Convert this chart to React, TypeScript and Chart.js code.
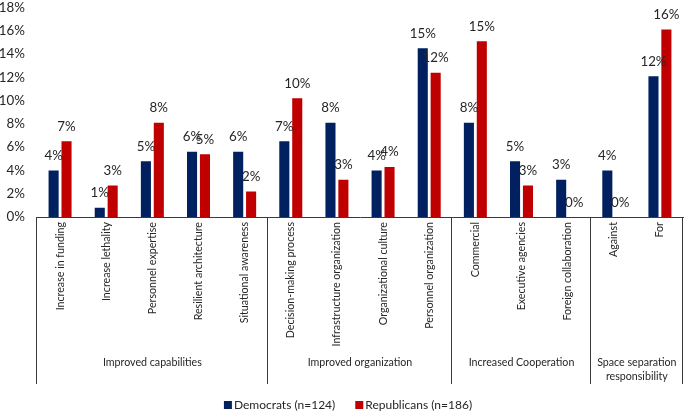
import React, { useEffect, useRef } from "react";
import { Chart, registerables } from "chart.js";
Chart.register(...registerables);

const categories = [
  "Increase in funding",
  "Increase lethality",
  "Personnel expertise",
  "Resilient architecture",
  "Situational awareness",
  "Decision-making process",
  "Infrastructure organization",
  "Organizational culture",
  "Personnel organization",
  "Commercial",
  "Executive agencies",
  "Foreign collaboration",
  "Against",
  "For",
];
const democrats = [4.0, 0.8, 4.8, 5.6, 5.6, 6.5, 8.1, 4.0, 14.5, 8.1, 4.8, 3.2, 4.0, 12.1];
const republicans = [6.5, 2.7, 8.1, 5.4, 2.2, 10.2, 3.2, 4.3, 12.4, 15.1, 2.7, 0, 0, 16.1];
const groupNames = [
  ["Improved capabilities"],
  ["Improved organization"],
  ["Increased Cooperation"],
  ["Space separation", "responsibility"],
];
const groupSizes = [5, 4, 3, 2];
const seriesNames = ["Democrats (n=124)", "Republicans (n=186)"];
const seriesColors = ["#002060", "#C00000"];

const FONT = "Lato, Carlito, Calibri, sans-serif";
const TEXT = "#262626";

const overlayPlugin = {
  id: "overlay",
  afterDraw(chart: any) {
    const { ctx, chartArea, scales } = chart;
    const x = scales.x;
    ctx.save();
    // value labels
    ctx.font = `13.33px ${FONT}`;
    ctx.fillStyle = TEXT;
    ctx.textAlign = "center";
    ctx.textBaseline = "alphabetic";
    chart.data.datasets.forEach((ds: any, di: number) => {
      const meta = chart.getDatasetMeta(di);
      meta.data.forEach((el: any, i: number) => {
        const v = ds.data[i];
        ctx.fillText(Math.round(v) + "%", el.x, el.y - 10.5);
      });
    });
    // group separators
    const n = categories.length;
    const w = (x.right - x.left) / n;
    const top = chartArea.bottom;
    const bottom = chartArea.bottom + 167;
    ctx.strokeStyle = "#3a3a3a";
    ctx.lineWidth = 1;
    let idx = 0;
    const bounds = [0];
    groupSizes.forEach((s) => {
      idx += s;
      bounds.push(idx);
    });
    bounds.forEach((b) => {
      const px = Math.round(x.left + b * w) - 0.5;
      ctx.beginPath();
      ctx.moveTo(px, top);
      ctx.lineTo(px, bottom);
      ctx.stroke();
    });
    // group labels
    ctx.font = `10.67px ${FONT}`;
    ctx.fillStyle = TEXT;
    ctx.textBaseline = "middle";
    for (let g = 0; g < groupSizes.length; g++) {
      const cx = x.left + ((bounds[g] + bounds[g + 1]) / 2) * w;
      groupNames[g].forEach((line, li) => {
        ctx.fillText(line, cx, chartArea.bottom + 146 + li * 14);
      });
    }
    // legend
    ctx.font = `12px ${FONT}`;
    const box = 8;
    const gap = 2;
    const between = 20;
    const widths = seriesNames.map((s) => ctx.measureText(s).width);
    const total = widths.reduce((a, b) => a + b, 0) + seriesNames.length * (box + gap) + between * (seriesNames.length - 1);
    let lx = 348 - total / 2;
    const ly = 405;
    ctx.textAlign = "left";
    ctx.textBaseline = "middle";
    seriesNames.forEach((s, i) => {
      ctx.fillStyle = seriesColors[i];
      ctx.fillRect(lx, ly - box / 2, box, box);
      lx += box + gap;
      ctx.fillStyle = TEXT;
      ctx.fillText(s, lx, ly);
      lx += widths[i] + between;
    });
    ctx.restore();
  },
};

export default function App() {
  const ref = useRef<HTMLCanvasElement>(null);
  useEffect(() => {
    if (!ref.current) return;
    const chart = new Chart(ref.current, {
      type: "bar",
      data: {
        labels: categories,
        datasets: [
          {
            label: seriesNames[0],
            data: democrats,
            backgroundColor: seriesColors[0],
            categoryPercentage: 0.56,
            barPercentage: 0.78,
          },
          {
            label: seriesNames[1],
            data: republicans,
            backgroundColor: seriesColors[1],
            categoryPercentage: 0.56,
            barPercentage: 0.78,
          },
        ],
      },
      options: {
        responsive: false,
        animation: false,
        devicePixelRatio: 1,
        layout: { padding: { top: 0, right: 2, bottom: 26, left: 0 } },
        plugins: {
          legend: { display: false },
          tooltip: { enabled: false },
        },
        scales: {
          x: {
            grid: { display: false, drawTicks: false },
            border: { display: true, color: "#3a3a3a", width: 1 },
            ticks: {
              autoSkip: false,
              maxRotation: 90,
              minRotation: 90,
              padding: 5,
              color: TEXT,
              font: { family: FONT, size: 10.67 },
            },
            afterFit: (scale: any) => {
              scale.height = 168;
              scale.paddingTop = 0;
            },
          },
          y: {
            min: 0,
            max: 18,
            grid: { display: false, drawTicks: false },
            border: { display: false },
            ticks: {
              stepSize: 2,
              padding: 12,
              color: TEXT,
              font: { family: FONT, size: 13.33 },
              callback: (v: any) => v + "%",
            },
            afterFit: (scale: any) => {
              scale.width = 37;
              scale.paddingTop = 7.5;
              scale.paddingBottom = 0;
            },
          },
        },
      },
      plugins: [overlayPlugin],
    });
    return () => chart.destroy();
  }, []);
  return (
    <div style={{ position: "absolute", left: 0, top: 0, width: 685, height: 411, background: "#fff" }}>
      <canvas ref={ref} width={685} height={411} />
    </div>
  );
}
